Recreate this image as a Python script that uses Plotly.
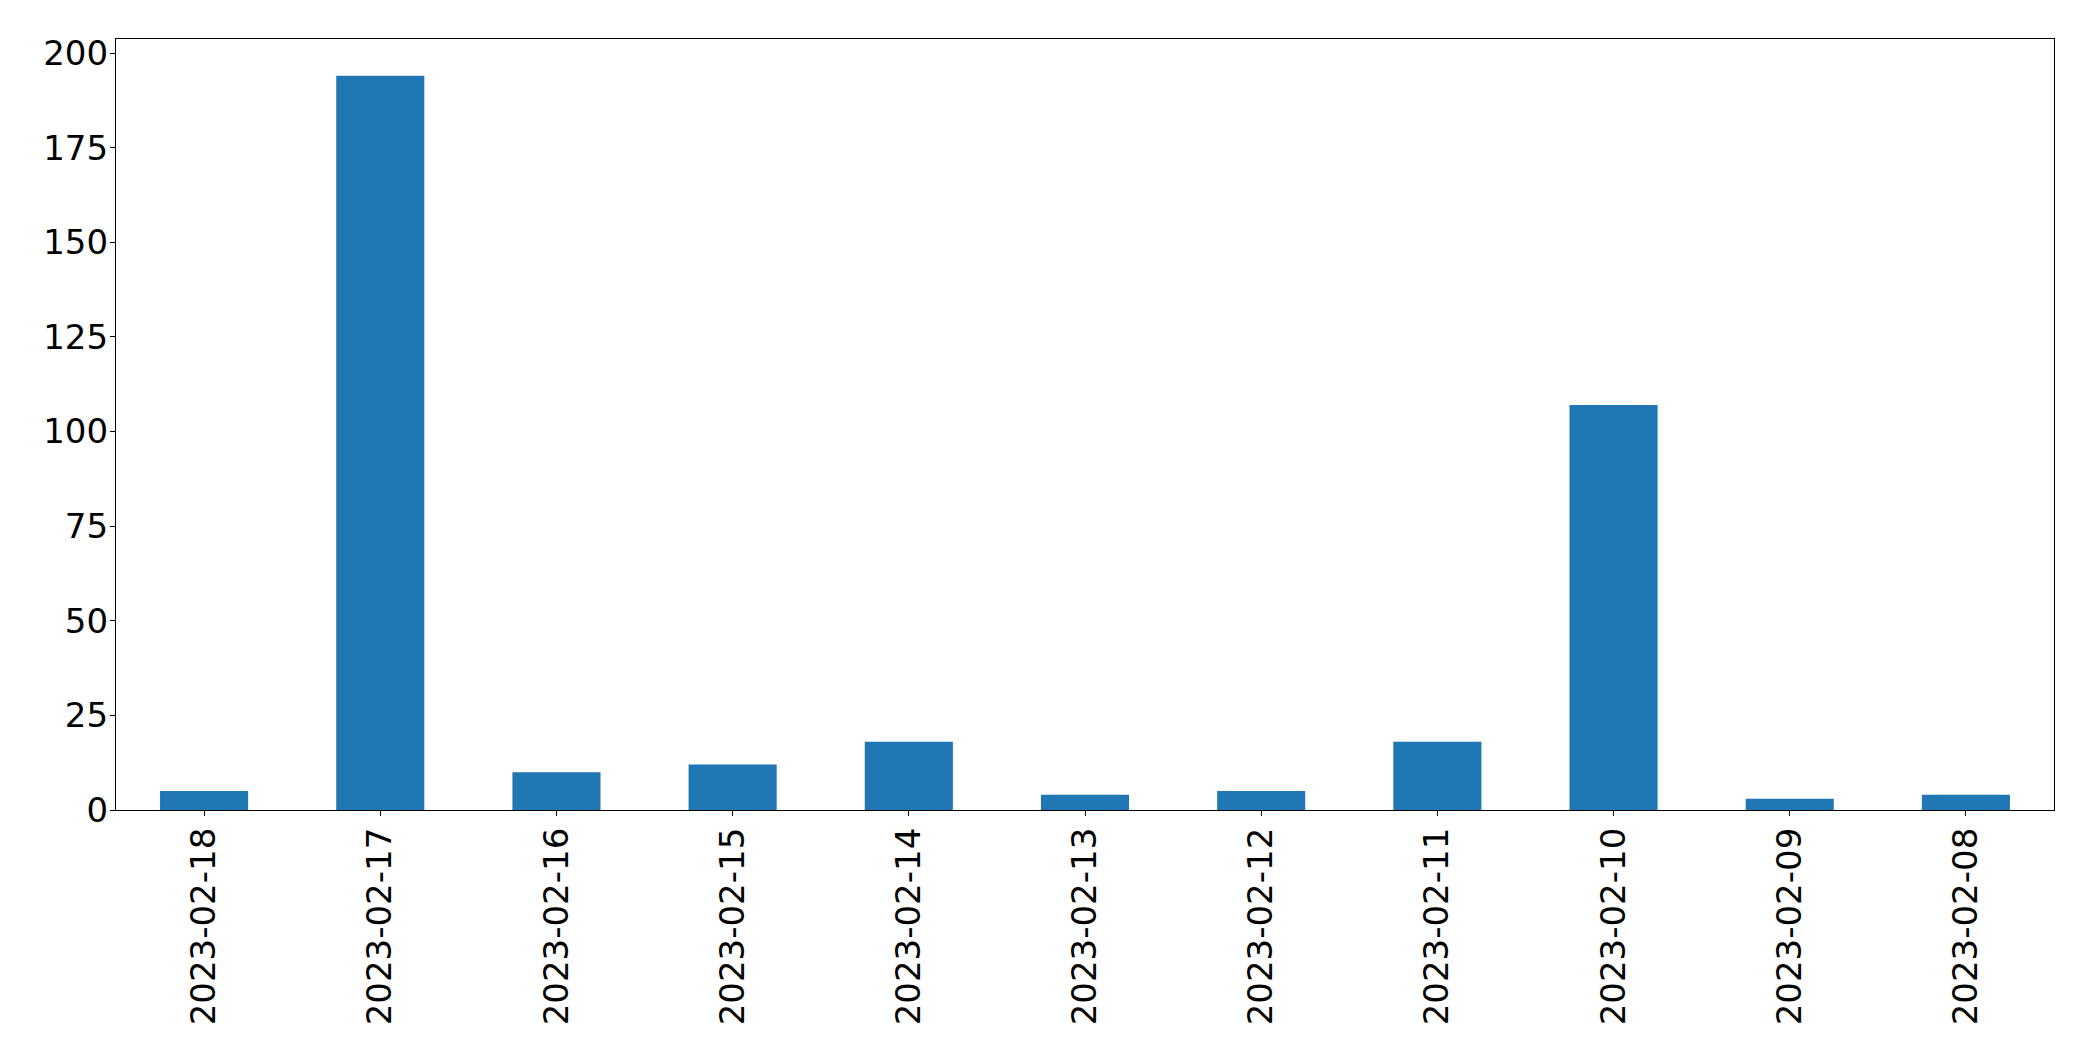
import plotly.graph_objects as go

dates = ["2023-02-18", "2023-02-17", "2023-02-16", "2023-02-15", "2023-02-14",
         "2023-02-13", "2023-02-12", "2023-02-11", "2023-02-10", "2023-02-09", "2023-02-08"]
counts = [5, 194, 10, 12, 18, 4, 5, 18, 107, 3, 4]
y_ticks = [0, 25, 50, 75, 100, 125, 150, 175, 200]

fig = go.Figure(go.Bar(x=dates, y=counts, width=0.5, marker=dict(color="#1f77b4", line=dict(width=0))))

font = dict(family="DejaVu Sans", size=34, color="black")
# page body has an 8px default margin, so the figure is offset by 8px
fig.update_layout(
    width=2085, height=1053,
    margin=dict(l=108, r=39, t=31, b=251, autoexpand=False),
    paper_bgcolor="white", plot_bgcolor="white",
    showlegend=False,
    font=font,
)
fig.update_xaxes(
    type="category", range=[-0.5, len(dates) - 0.5],
    showline=True, linecolor="black", linewidth=1.3, mirror=True,
    ticks="outside", ticklen=5, tickwidth=1.3, tickcolor="black",
    tickangle=-90, showgrid=False, tickfont=font, automargin=False,
    ticklabelstandoff=-2,
)
fig.update_yaxes(
    range=[0, max(counts) * 1.05],
    tickvals=y_ticks,
    showline=True, linecolor="black", linewidth=1.3, mirror=True,
    ticks="outside", ticklen=5, tickwidth=1.3, tickcolor="black",
    showgrid=False, zeroline=False, tickfont=font, automargin=False,
    ticklabelstandoff=-5,
)
fig.write_html("out.html")
